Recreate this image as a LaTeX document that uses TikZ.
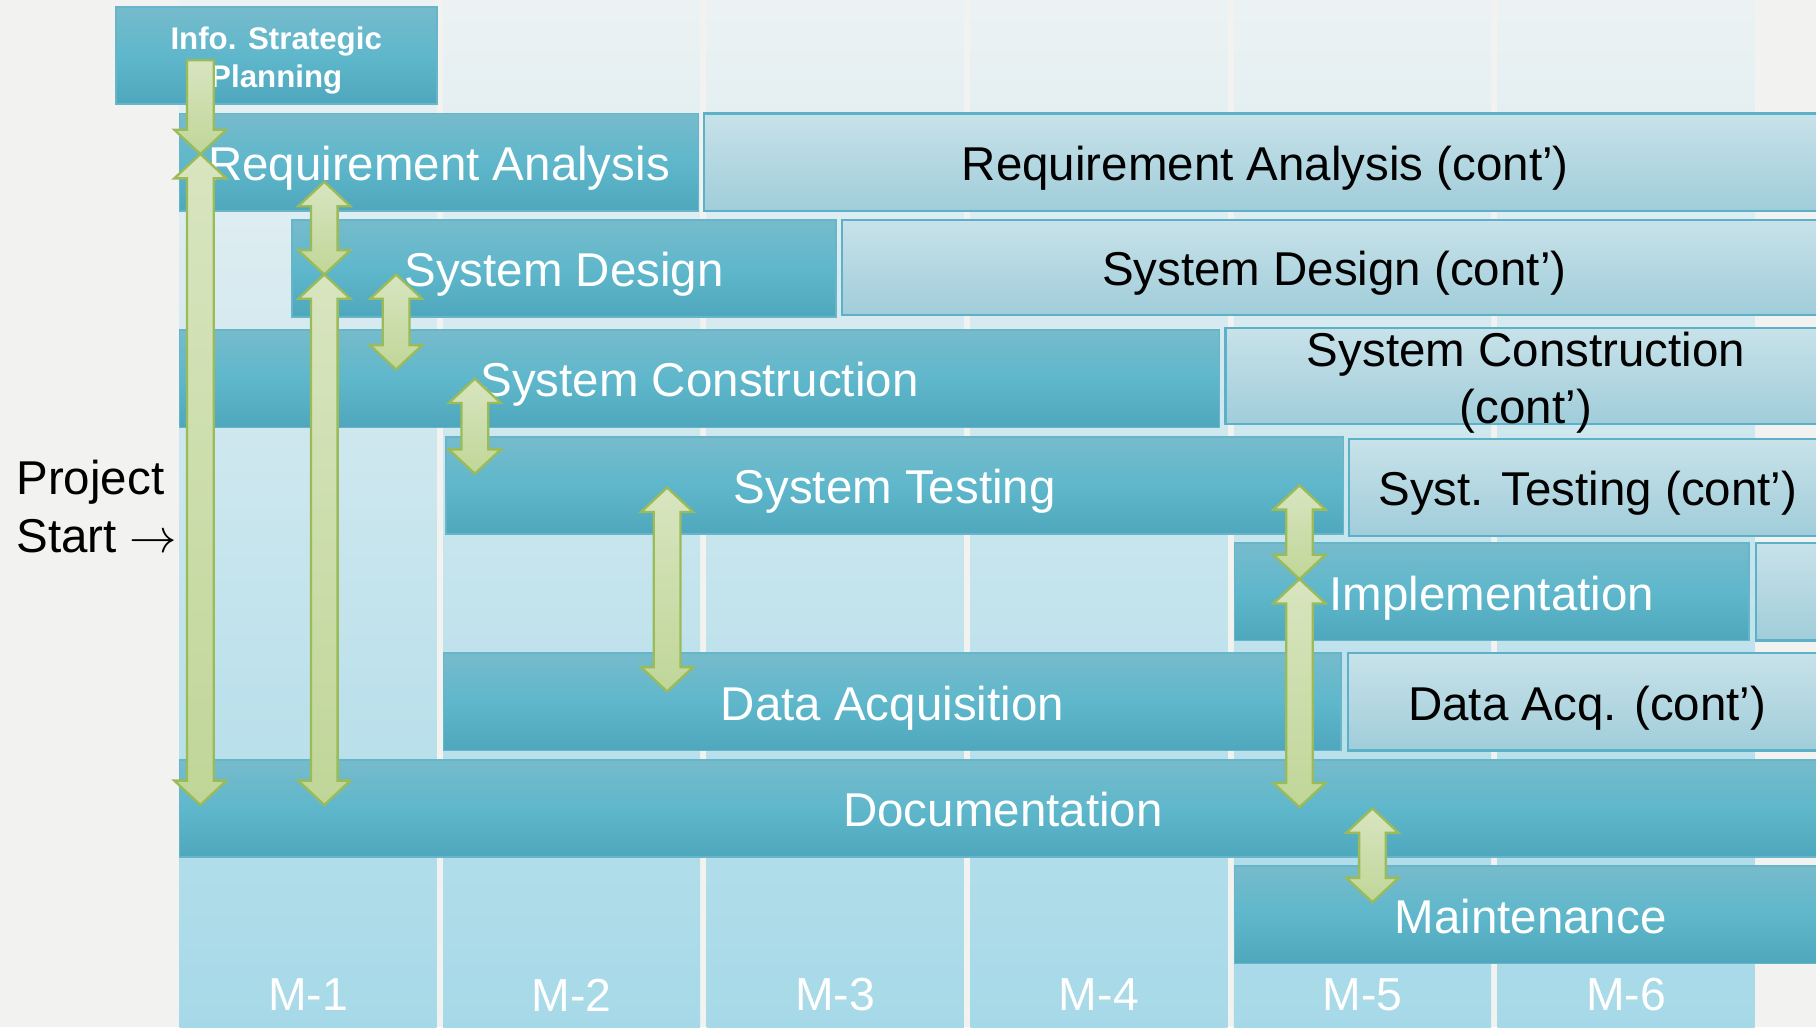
\RequirePackage{fix-cm}
\documentclass[tikz,border=0pt]{standalone}
\usepackage{fontspec}
\setmainfont{Liberation Sans}
\usetikzlibrary{calc}
\definecolor{bgc}{RGB}{242,242,240}
\definecolor{coltop}{RGB}{236,242,243}
\definecolor{colbot}{RGB}{166,217,232}
\definecolor{dtop}{RGB}{118,187,204}
\definecolor{dmid}{RGB}{95,183,203}
\definecolor{dbot}{RGB}{79,167,189}
\definecolor{dline}{RGB}{102,181,201}
\definecolor{ltop}{RGB}{200,226,233}
\definecolor{lbot}{RGB}{160,205,218}
\definecolor{lline}{RGB}{92,177,200}
\definecolor{atop}{RGB}{216,229,192}
\definecolor{abot}{RGB}{192,214,152}
\definecolor{aline}{RGB}{155,187,89}
\tikzset{
 bar/.style={rectangle, inner sep=0pt, outer sep=0pt, font=\fontsize{41}{49}\selectfont},
 oneline/.style={text height=31.4pt, text depth=0pt},
 darkbar/.style={bar, draw=dline, line width=1.5pt, top color=dtop, bottom color=dbot, middle color=dmid, text=white},
 lightbar/.style={bar, draw=lline, line width=2pt, top color=ltop, bottom color=lbot, text=black},
 monthcol/.style={top color=coltop, bottom color=colbot},
 monthlbl/.style={text=white, font=\fontsize{40}{46}\selectfont},
 blockarrow/.style={draw=aline, line width=2pt, top color=atop, bottom color=abot, line join=miter},
}
\newcommand{\myDblArrow}[2]{\path[blockarrow] let \p1=(#1), \p2=(#2) in
  (\x1,\y1) -- ++(22.5pt,-21pt) -- ++(-11pt,0pt) -- (\x1+11.5pt,\y2+21pt) -- ++(11pt,0pt)
  -- (\x1,\y2) -- ++(-22.5pt,21pt) -- ++(11pt,0pt) -- (\x1-11.5pt,\y1-21pt) -- ++(-11pt,0pt) -- cycle;}
\newcommand{\mySglArrow}[2]{\path[blockarrow] let \p1=(#1), \p2=(#2) in
  (\x1-11.5pt,\y1) -- (\x1+11.5pt,\y1) -- (\x1+11.5pt,\y2+21pt) -- ++(11pt,0pt)
  -- (\x1,\y2) -- ++(-22.5pt,21pt) -- ++(11pt,0pt) -- cycle;}
\begin{document}
\begin{tikzpicture}[x=1pt,y=-1pt]
\path[use as bounding box] (0,0) rectangle (1568,887);
\clip (0,0) rectangle (1568,887);
\fill[bgc] (0,0) rectangle (1568,887);
% month columns
\foreach \i in {0,...,5}{
  \shade[monthcol] ({155+227.6*\i},0) rectangle ({377+227.6*\i},887);
}
\foreach \i in {1,...,6}{
  \node[monthlbl] (m\i) at ({266+227.6*(\i-1)},859) {M-\i};
}
% bars
\node[darkbar, minimum width=277pt, minimum height=84pt, font=\fontsize{27}{33}\selectfont\bfseries] (isp) at (238.5,48) {\raisebox{-11.3pt}[0pt][0pt]{\begin{tabular}{@{}c@{}}Info. Strategic\\Planning\end{tabular}}};
\node[darkbar, oneline, minimum width=448pt, minimum height=84pt] (ra) at (379,140) {Requirement Analysis};
\node[lightbar, oneline, minimum width=969pt, minimum height=84pt] (rac) at (1092.5,140) {Requirement Analysis (cont’)};
\node[darkbar, oneline, minimum width=470pt, minimum height=84pt] (sd) at (487,232) {System Design};
\node[lightbar, oneline, minimum width=850pt, minimum height=82pt] (sdc) at (1152,231) {System Design (cont’)};
\node[darkbar, oneline, minimum width=898pt, minimum height=84pt] (sc) at (604,327) {System Construction};
\node[lightbar, minimum width=519pt, minimum height=83pt] (scc) at (1317.5,324.5) {\raisebox{-16.7pt}[0pt][0pt]{\begin{tabular}{@{}c@{}}System Construction\\(cont’)\end{tabular}}};
\node[darkbar, oneline, minimum width=775pt, minimum height=84pt] (st) at (772.5,419) {System Testing};
\node[lightbar, oneline, minimum width=412pt, minimum height=84pt] (stc) at (1371,421) {Syst. Testing (cont’)};
\node[darkbar, oneline, minimum width=444pt, minimum height=84pt] (im) at (1288,511) {Implementation};
\node[lightbar, minimum width=61pt, minimum height=84pt] (imc) at (1546.5,511) {};
\node[darkbar, oneline, minimum width=775pt, minimum height=84pt] (da) at (770.5,606) {Data Acquisition};
\node[lightbar, oneline, minimum width=413pt, minimum height=84pt] (dac) at (1370.5,606) {Data Acq. (cont’)};
\node[darkbar, oneline, minimum width=1422pt, minimum height=84pt] (doc) at (866,698) {Documentation};
\node[darkbar, oneline, minimum width=511pt, minimum height=84pt] (mt) at (1321.5,790) {Maintenance};
% project start
\node[anchor=west, align=left, inner sep=0pt, font=\fontsize{41}{50}\selectfont] (ps) at (14,437) {Project\\Start $\rightarrow$};
% arrow end points
\coordinate (a1t) at (173,52);  \coordinate (a1b) at (173,133);
\coordinate (a2t) at (173,133); \coordinate (a2b) at (173,695);
\coordinate (a3t) at (280,157); \coordinate (a3b) at (280,237);
\coordinate (a4t) at (280,237); \coordinate (a4b) at (280,695);
\coordinate (a5t) at (342,237); \coordinate (a5b) at (342,319);
\coordinate (a6t) at (410,327); \coordinate (a6b) at (410,409);
\coordinate (a7t) at (576,421); \coordinate (a7b) at (576,597);
\coordinate (a8t) at (1122,419); \coordinate (a8b) at (1122,500);
\coordinate (a9t) at (1122,500); \coordinate (a9b) at (1122,697);
\coordinate (a10t) at (1185,698); \coordinate (a10b) at (1185,779);
\myDblArrow{a2t}{a2b}
\mySglArrow{a1t}{a1b}
\myDblArrow{a4t}{a4b}
\myDblArrow{a3t}{a3b}
\myDblArrow{a5t}{a5b}
\myDblArrow{a6t}{a6b}
\myDblArrow{a7t}{a7b}
\myDblArrow{a9t}{a9b}
\myDblArrow{a8t}{a8b}
\myDblArrow{a10t}{a10b}
\end{tikzpicture}
\end{document}
